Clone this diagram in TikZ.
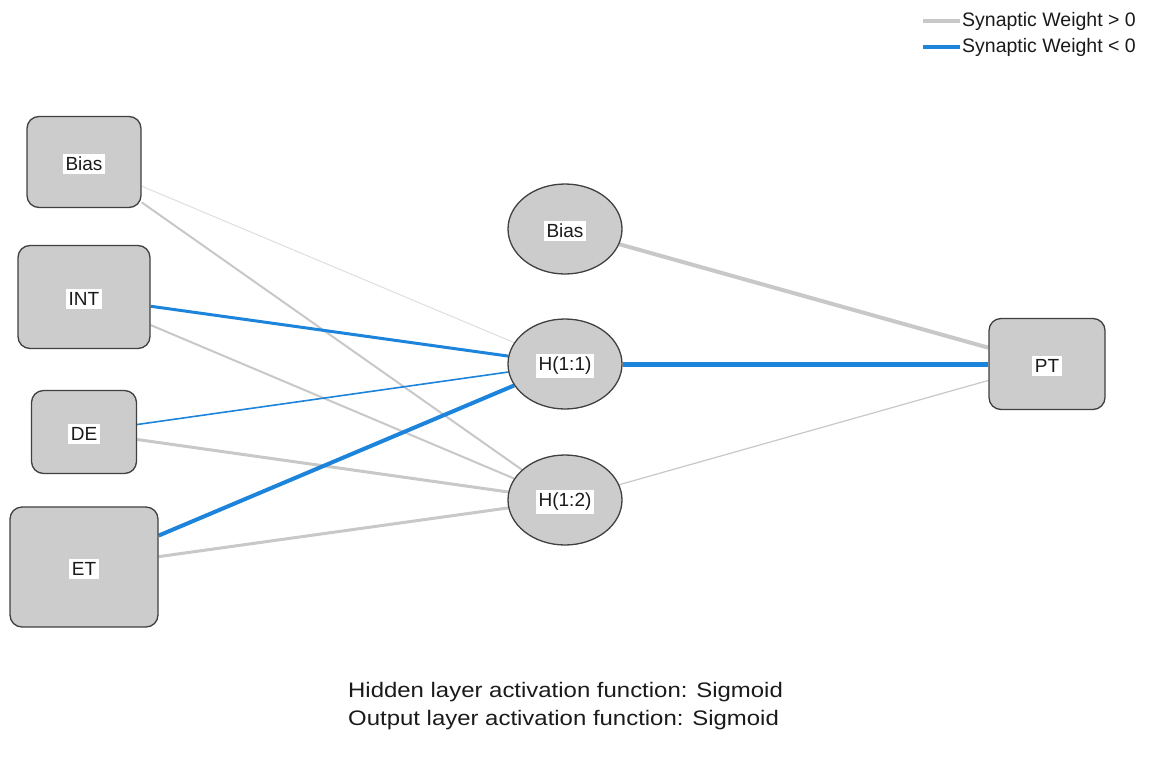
\documentclass[tikz,border=0pt]{standalone}
\usepackage{fontspec}
\setmainfont{Liberation Sans}
\usetikzlibrary{shapes.geometric,backgrounds}
\definecolor{boxgray}{RGB}{204,204,204}
\definecolor{edgedark}{RGB}{64,64,64}
\definecolor{posw}{RGB}{200,200,200}
\definecolor{posl}{RGB}{222,222,222}
\definecolor{negw}{RGB}{28,132,218}
\definecolor{txt}{RGB}{26,26,26}
\tikzset{
  unitbox/.style={draw=edgedark, line width=1.3pt, fill=boxgray, rounded corners=12pt, inner sep=0pt},
  unitell/.style={ellipse, draw=edgedark, line width=1.3pt, fill=boxgray, inner sep=0pt, minimum width=114pt, minimum height=90pt},
  lab/.style={fill=white, inner xsep=2.5pt, inner ysep=3pt, text=txt, font=\fontsize{19}{19}\selectfont},
  poswt/.style={draw=posw},
  negwt/.style={draw=negw},
  note/.style={anchor=west, text=txt, inner sep=0pt, font=\fontsize{21}{21}\selectfont},
  legtext/.style={anchor=west, text=txt, inner sep=0pt, font=\fontsize{19.5}{19.5}\selectfont},
}
\begin{document}
\begin{tikzpicture}[x=1pt, y=-1pt]
\useasboundingbox (0,0) rectangle (1150,760);
% input layer
\node[unitbox, minimum width=114pt, minimum height=91pt] (i0) at (84,162) {};
\node[unitbox, minimum width=132pt, minimum height=103pt] (i1) at (84,297) {};
\node[unitbox, minimum width=105pt, minimum height=83pt] (i2) at (84,432) {};
\node[unitbox, minimum width=148pt, minimum height=120pt] (i3) at (84,567) {};
% hidden layer
\node[unitell] (h0) at (565,229) {};
\node[unitell] (h1) at (565,364) {};
\node[unitell] (h2) at (565,500) {};
% output
\node[unitbox, minimum width=116pt, minimum height=91pt] (o1) at (1047,364) {};
% labels
\node[lab] (i0t) at (84,164) {Bias};
\node[lab] (i1t) at (84,299) {INT};
\node[lab] (i2t) at (84,434) {DE};
\node[lab] (i3t) at (84,569) {ET};
\node[lab] (h0t) at (565,231) {Bias};
\node[lab] (h1t) at (565,366) {H(1:1)};
\node[lab] (h2t) at (565,502) {H(1:2)};
\node[lab] (o1t) at (1047,366) {PT};
% connections
\begin{scope}[on background layer]
\draw[draw=posl, line width=1pt] (i0) -- (h1);
\draw[poswt, line width=2pt] (i0) -- (h2);
\draw[negwt, line width=3pt] (i1) -- (h1);
\draw[poswt, line width=2pt] (i1) -- (h2);
\draw[negwt, line width=1.6pt] (i2) -- (h1);
\draw[poswt, line width=3pt] (i2) -- (h2);
\draw[negwt, line width=4pt] (i3) -- (h1);
\draw[poswt, line width=3pt] (i3) -- (h2);
\draw[poswt, line width=4pt] (h0) -- (o1);
\draw[negwt, line width=5pt] (h1) -- (o1);
\draw[poswt, line width=1.2pt] (h2) -- (o1);
\end{scope}
% legend
\coordinate (lp1) at (923,21);
\coordinate (lp2) at (960,21);
\coordinate (ln1) at (923,47);
\coordinate (ln2) at (960,47);
\draw[poswt, line width=4pt] (lp1) -- (lp2);
\draw[negwt, line width=4pt] (ln1) -- (ln2);
\node[legtext] (legp) at (962,21) {Synaptic Weight > 0};
\node[legtext] (legn) at (962,47) {Synaptic Weight < 0};
% notes
\node[note] (n1) at (348,692) {\scalebox{1.14}[1]{Hidden layer activation function: Sigmoid}};
\node[note] (n2) at (348,720) {\scalebox{1.14}[1]{Output layer activation function: Sigmoid}};
\end{tikzpicture}
\end{document}
